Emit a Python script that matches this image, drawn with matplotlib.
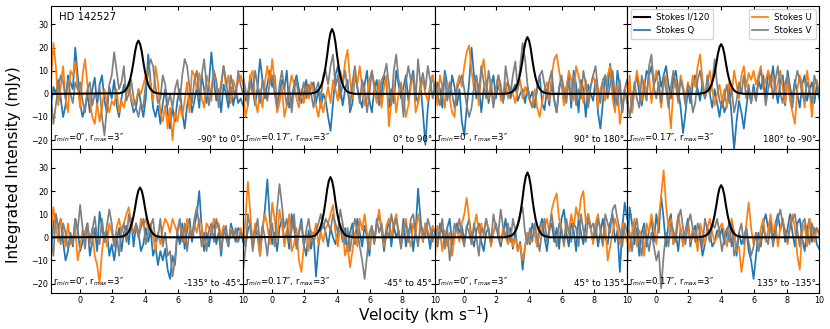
import numpy as np
import matplotlib
matplotlib.use('Agg')
import matplotlib.pyplot as plt

# velocity channels (km/s) for the polarisation spectra
velocity = np.linspace(-1.75, 10.0, 80)
# finer channels around the line for Stokes I/120
i_velocity = np.round(np.arange(2.4, 5.45, 0.1), 2)

r_min_labels = ['0″', '0.17″', '0″', '0.17″', '0″', '0.17″', '0″', '0.17″']
angle_labels = ['-90° to 0°', '0° to 90°', '90° to 180°', '180° to -90°',
                '-135° to -45°', '-45° to 45°', '45° to 135°', '135° to -135°']

# Stokes I / 120 (mJy), one list per panel, on i_velocity
stokes_i = [
    [0.2, 0.35, 0.6, 0.9, 1.6, 2.5, 4.1, 6.4, 9.7, 13.8, 18.4, 21.6, 23, 21.6, 18.4, 13.8,
     9.7, 6.4, 4.1, 2.5, 1.6, 0.9, 0.6, 0.35, 0.2, 0.1, 0.05, 0, 0, 0, 0],
    [0.1, 0.3, 0.4, 0.7, 1.1, 2.0, 3.1, 5.0, 7.8, 11.8, 16.8, 22.4, 26.3, 28, 26.3, 22.4,
     16.8, 11.8, 7.8, 5.0, 3.1, 2.0, 1.1, 0.7, 0.4, 0.3, 0.1, 0, 0, 0, 0],
    [0, 0, 0.1, 0.2, 0.4, 0.6, 1.0, 1.7, 2.7, 4.4, 6.9, 10.3, 14.7, 19.6, 23.0, 24.5,
     23.0, 19.6, 14.7, 10.3, 6.9, 4.4, 2.7, 1.7, 1.0, 0.6, 0.4, 0.2, 0.1, 0, 0],
    [0, 0, 0, 0.1, 0.2, 0.3, 0.5, 0.9, 1.5, 2.4, 3.9, 6.0, 9.0, 12.9, 17.2, 20.2,
     21.5, 20.2, 17.2, 12.9, 9.0, 6.0, 3.9, 2.4, 1.5, 0.9, 0.5, 0.3, 0.2, 0.1, 0],
    [0.1, 0.2, 0.3, 0.5, 0.9, 1.5, 2.4, 3.9, 6.0, 9.0, 12.9, 17.2, 20.2, 21.5, 20.2, 17.2,
     12.9, 9.0, 6.0, 3.9, 2.4, 1.5, 0.9, 0.5, 0.3, 0.2, 0.1, 0, 0, 0, 0],
    [0.26, 0.4, 0.65, 1.0, 1.8, 2.9, 4.7, 7.3, 10.9, 15.6, 20.8, 24.4, 26, 24.4, 20.8, 15.6,
     10.9, 7.3, 4.7, 2.9, 1.8, 1.0, 0.65, 0.4, 0.26, 0.1, 0, 0, 0, 0, 0],
    [0, 0, 0.1, 0.3, 0.4, 0.7, 1.1, 2.0, 3.1, 5.0, 7.8, 11.8, 16.8, 22.4, 26.3, 28,
     26.3, 22.4, 16.8, 11.8, 7.8, 5.0, 3.1, 2.0, 1.1, 0.7, 0.4, 0.3, 0.1, 0, 0],
    [0, 0, 0, 0.1, 0.2, 0.3, 0.6, 0.9, 1.6, 2.5, 4.1, 6.3, 9.5, 13.5, 18.0, 21.2,
     22.5, 21.2, 18.0, 13.5, 9.5, 6.3, 4.1, 2.5, 1.6, 0.9, 0.6, 0.3, 0.2, 0.1, 0],
]

# Stokes Q (mJy), on velocity
stokes_q = [
    [-5, 3, 0, 6, -2, -10, -5, 8, 5, 2, 20, 8,
     -4, -10, -6, 0, -8, 2, 7, -5, 4, 8, -3, -8, 3, -2,
     6, -5, -10, -2, 4, 0, 5, -3, -8, -6, 2, -4, -10,
     -2, 17, 5, -6, -10, -5, -13, -4, 2, -8, -15, -6, -12, -3,
     2, -8, -15, -5, 0, -8, -3, 3, -6, 8, 2, -4, 5,
     18, 6, -3, 2, -8, 4, 0, -6, 3, -5, 2, -4, -2, -5],
    [5, -3, 0, 8, 2, -5, 3, 15, 6, -2, 4, 10,
     3, 8, -5, 0, 6, 2, 10, -6, -3, 4, 8, 2, -4, 0,
     6, -2, 3, 5, -4, 2, -6, 0, -3, -10, -16, -4, 8,
     12, 3, -5, 2, 6, -8, -4, 8, 3, -2, -6, 4, 10, -3,
     -8, 2, 6, -5, 0, 8, 4, -6, 2, -4, 10, 4, -2,
     3, 8, -3, 5, 10, 0, -4, 4, -8, -22, -6, 3, 8, 0],
    [-3, 5, 2, -6, 10, 4, -2, 8, 3, -5, 2, -12,
     -18, -6, 5, 20, 8, -2, 4, -8, 2, 6, -4, 3, 8, -2,
     4, 0, -3, 2, 5, -2, 2, 4, -3, 0, 2, -4, 3,
     -2, 1, -6, 3, 8, -4, -7, 2, -5, 5, -3, -8, 2, 6,
     -4, 3, 8, -6, 10, 4, -8, 6, 2, -10, 4, 0, -3,
     6, -8, -15, -4, 8, 2, 13, 4, -6, 10, 3, -8, 2, 6],
    [-2, 5, -8, 3, 8, 0, -5, 2, 10, 8, 12, 4,
     7, 10, 3, 8, 12, 4, -2, 6, 10, 2, -6, -17, -8, 2,
     -4, 4, 8, 2, -3, 5, -2, 3, 0, -6, 2, -4, -10,
     -2, -8, -5, 3, -10, -24, -12, -3, -8, -15, -6, 2, -4, 4,
     -3, 6, 2, 8, -2, 10, 4, 12, 2, -4, 6, 8, -5,
     10, 3, -2, 6, 0, -6, 4, 8, -3, 2, 5, -4, 4, -2],
    [-8, 6, 10, 4, 8, -2, -10, -6, 2, -4, 8, 3,
     -6, -2, 2, 6, -8, -2, 4, -6, 11, 4, -2, 3, -8, -3,
     -10, -2, 4, -6, 2, 5, -3, 8, -4, 6, 2, -6, -3,
     4, -2, 3, -8, -4, -12, -6, -10, -5, -14, -18, -8, -12, 2,
     -3, 6, -5, 3, 8, -2, 5, 10, 20, 4, -6, 2, -4,
     3, 6, -3, 2, -8, 4, 0, -4, 6, 2, -2, 4, 3, -2],
    [2, -4, 3, 6, -2, 5, 0, -8, 3, 12, 25, 8,
     -3, 2, -6, 4, 8, -2, 3, -5, 10, 4, -4, 2, 8, -3,
     -8, 3, -5, 2, -17, -4, 3, 6, 2, -4, 4, 0, -3,
     2, 5, -2, 4, -6, 2, 6, -3, 8, 2, -4, 5, 0, -8,
     4, -2, 6, 10, 3, -6, 2, 8, -4, 5, 0, 3, -3,
     8, -4, 2, 6, -6, 3, 21, 8, -2, 6, 2, -5, 4, 2],
    [3, -4, 6, 2, -2, 4, 8, -3, 0, 6, 2, 5,
     -2, 4, 8, 0, -4, 3, 6, -2, -6, 2, 4, -3, 2, 6,
     0, -4, 2, 8, -2, 4, -5, 3, -6, -2, -14, -4, 2,
     -3, 6, 2, -4, 4, 8, 0, -6, 3, 6, -2, 4, -5, 8,
     12, 2, -4, 6, 3, -6, 8, 2, -3, 6, 10, 4, -2,
     6, -4, 2, 8, 0, -3, 6, 10, -2, 3, -15, 4, 15, 8],
    [-12, 13, 6, -3, 4, -8, 2, 6, -4, 3, 8, -2,
     10, 2, 18, 8, -4, 6, 10, -3, 2, -6, 4, -2, 3, 8,
     -4, 2, 5, -2, 0, -8, -3, 4, 2, -4, -2, 3, 0,
     4, -3, 2, 6, -4, 3, -8, 2, -3, 0, 4, -6, -10, -18,
     -8, 2, -4, 6, 10, 4, 8, -2, 6, 10, 3, 8, -2,
     4, 10, 2, -4, 6, 8, 0, -6, 3, 8, -2, 4, -3, -5],
]

# Stokes U (mJy), on velocity
stokes_u = [
    [5, 22, 12, -5, 3, 12, -2, -8, 10, 8, 14, 3,
     -6, 8, 15, 4, -3, -10, -13, -4, -12, -6, 2, -4, -8, -3,
     -5, 2, -8, -3, -6, 0, 3, -2, -5, -3, 2, 0, 4,
     8, 10, 4, -3, 12, 5, -8, -12, -5, -15, -6, -20, -8, -12,
     -5, -10, -3, 5, -8, 10, 8, 2, 9, -2, -6, 8, 4,
     -3, 10, 6, -2, 5, 12, 3, 8, -4, 6, 2, 5, 8, 4],
    [3, -10, -5, 8, 10, -3, -8, 2, -6, 5, 12, 4,
     15, 5, -8, -4, 3, -10, -5, 2, 8, 4, -2, -6, 2, -4,
     3, -2, 5, 0, -5, -10, -3, -8, -2, 3, -4, 6, 2,
     -3, 10, 5, 14, 19, 6, -2, 8, 4, 12, 3, -5, -2, 6,
     10, 2, -4, 6, -6, 3, 8, -14, -3, 4, -8, 0, 5,
     -2, -10, -5, 3, 8, -8, -4, 2, 6, 0, -3, 4, 8, 2],
    [2, -5, 8, 3, -6, 5, -2, -8, -10, 4, 8, 3,
     12, 18, 21, 10, 2, 8, -5, 10, 15, 4, -2, 6, -4, 2,
     8, -3, 0, 5, -2, 3, 0, -4, 2, 6, -2, 3, 0,
     -3, -5, 2, -6, -10, -4, 2, 5, -3, 8, 15, 17, 10, 4,
     -5, 2, 10, 6, -3, 12, 8, 2, -4, 6, -2, 3, 8,
     4, -6, 2, 5, -3, 8, 12, -2, -8, 4, -13, -5, 2, 4],
    [-5, 8, -8, 2, 10, 4, -3, 6, 0, 8, -4, 5,
     10, 2, -6, 4, 8, -3, -15, 2, 6, -4, 8, 3, -2, 5,
     0, 8, 3, 12, 17, 6, -2, 4, 10, 2, -5, 0, 4,
     -3, 2, -6, 5, 0, 10, 4, -2, 8, 12, 3, 9, 6, 10,
     4, 8, 12, 2, 6, 10, 3, 8, 0, 5, 10, 2, -4,
     6, -3, -8, -13, 2, 8, 4, -6, 10, 2, -10, 4, 6, 0],
    [2, 13, 5, -2, 8, 2, -4, 6, -3, 0, 4, -10,
     -4, 3, 2, 5, -3, 4, -8, -12, -20, -6, 2, -4, 6, 2,
     -3, 4, 8, 2, 6, 10, 13, 6, 2, 4, 0, 8, 5,
     8, 3, 6, 0, -6, 2, -3, 4, 8, 6, 2, 8, 5, 2,
     6, 3, -2, 8, 4, 0, 6, 2, 8, 5, -3, 6, 4,
     2, 8, 4, 6, 0, 5, 2, -3, 4, 0, 2, -2, 4, 0],
    [-5, 8, 24, 10, -4, 6, 2, -8, 4, 10, 5, -3,
     15, 8, -2, 12, 6, -4, 2, 10, -6, -3, 4, -10, -15, -4,
     2, -6, 3, 0, 6, -3, 2, -2, 4, 6, 10, 14, 2,
     -4, 6, 2, -8, -3, -13, -6, 2, -4, 8, 3, 10, 2, -5,
     4, -2, 6, 12, 3, -4, 5, 8, 0, 6, 10, 2, -3,
     4, 8, 0, -4, 6, 2, 10, 4, -2, 6, 3, 0, 5, 2],
    [-8, 5, 2, -6, 3, -4, 2, -8, 0, 4, -2, 6,
     10, 17, 8, -3, 4, 10, 2, 6, 0, 8, 3, -4, 2, 5,
     3, -2, 4, 0, -3, 2, -4, 0, -6, -3, -10, -4, 2,
     -2, 0, 3, -4, 2, 6, 4, 8, 2, 12, 16, 19, 8, 4,
     -4, 6, 2, 10, 4, 13, 8, 17, 20, 6, 10, 4, -3,
     6, 10, 2, -4, 6, -10, -4, 2, 8, 4, -3, 6, 2, -2],
    [4, -6, 2, 8, -4, 3, 0, -8, 6, 2, 10, 4,
     -3, 8, 18, 29, 14, 4, 8, -3, 2, 10, 3, -4, 2, 6,
     -2, 4, 0, -6, 6, 2, -3, 4, 8, 2, -2, 0, 4,
     6, 2, -4, 3, 8, 2, -6, -4, -15, -8, 6, 15, 4, -3,
     2, -6, 4, 8, -2, 3, 10, 2, 6, -4, 4, 8, 2,
     -3, 6, 10, 4, -8, -14, 2, 6, -4, 8, 3, -2, 4, 2],
]

# Stokes V (mJy), on velocity
stokes_v = [
    [0, -13, -5, 3, 8, 5, -2, 6, 0, -4, 5, 2,
     5, -3, -8, 2, 5, -5, 0, -2, 3, -10, -18, -6, 4, 8,
     18, 10, 2, 5, 12, -3, 0, 6, -2, -6, -10, -4, -6,
     5, 10, 15, 12, 3, -4, -2, 8, 4, -5, 0, -6, 2, 6,
     -3, 8, 15, 12, 3, -4, 6, 10, -2, 8, 15, 4, -5,
     2, 10, 5, -6, 3, 12, 6, -3, 8, 2, -2, 10, 4, 0],
    [8, 2, -5, 5, 0, 10, 3, -4, 6, 2, -3, 5,
     8, 0, -6, 4, 10, 2, -5, 3, -8, 2, 6, -3, 0, 5,
     -2, 4, 0, -6, 2, 5, -3, 8, 10, 4, 12, 17, 3,
     8, -2, 4, 10, 2, -6, 5, 12, 3, -4, 6, 2, -8, 0,
     10, 4, 0, -3, 6, 8, 13, 4, -5, 10, 17, 6, 2,
     -10, 5, 12, 6, 8, -3, 15, 4, 9, 2, 12, 6, -2, 4],
    [6, 0, -5, 3, 8, -3, 5, 0, -6, 2, 5, 8,
     2, -5, -10, -6, 3, 8, 0, 12, 5, -2, 10, 3, -6, 2,
     8, 4, -4, 12, 5, 0, 8, 14, 2, 12, 22, 15, 4,
     -3, -6, -4, 2, 8, 10, 4, -2, 6, 10, -2, -8, 3, 8,
     2, -4, 6, -3, 8, -5, 2, -2, 10, 4, -6, 3, 8,
     12, 2, -4, 6, 8, -2, 4, 10, 0, -5, 6, -8, 2, -4],
    [0, -10, -4, 5, -2, -6, 8, 2, -3, 12, 17, 3,
     -2, 5, -4, 8, 2, -6, 3, 10, 4, -3, 6, 2, -5, 4,
     2, -8, -4, 6, 10, 3, -2, 8, 0, 5, 15, 4, -3,
     -6, -2, 4, -4, 2, -8, -3, 5, 0, 8, -2, 4, -4, 2,
     -3, 6, 10, 4, -5, 2, 8, -2, 6, 12, 0, -4, 5,
     8, 2, -6, 4, 10, 6, 0, -3, 5, 2, -4, 8, 4, 1],
    [0, -8, 10, 4, -3, 6, 2, -5, 0, -3, 8, 3,
     14, 4, -5, 6, -2, 3, 9, 0, -3, 8, -2, 5, 12, 6,
     -4, 2, -8, 3, 6, -2, 10, 4, 2, 6, 0, 4, 8,
     -3, 2, 5, 8, -2, 0, 8, -4, 2, -8, -6, -17, -10, 3,
     8, -2, 6, -6, 3, 0, 8, 13, 5, -4, 2, -6, 3,
     6, -2, 8, 4, -6, 2, 5, -3, 3, 0, 4, -2, 2, 0],
    [-15, -5, 10, 4, -6, 2, 8, -3, 5, 0, -8, 3,
     6, -4, 12, 23, 14, 4, 8, -2, 3, 10, -5, 2, 6, -4,
     3, 8, 0, -3, 2, 6, 10, 4, 8, 6, 3, 10, 6,
     2, 12, 6, -3, 4, -6, 2, 8, 3, -4, -10, -18, -8, 2,
     5, -3, 8, 2, 6, -2, 3, 0, 10, 4, 8, 2, -5,
     3, 6, -2, 8, 10, 2, -4, 6, 3, 0, 8, 4, -2, 3],
    [6, -3, 2, 8, -5, 4, -10, -2, 6, 3, 8, 0,
     -4, 5, 2, -3, 6, 0, -8, 4, 2, 8, 3, -2, 10, 4,
     2, 12, 4, 0, 6, -2, 8, 3, 6, 10, 13, 2, -3,
     4, -2, 6, 0, -6, 3, 8, -2, 4, 10, 2, -4, 6, 3,
     -3, 8, 2, -2, 6, 4, -4, 10, 3, -2, 8, 4, 6,
     0, 8, 4, -3, 10, 6, 2, 12, 14, 8, 3, -4, 6, 2],
    [6, 2, -6, 3, 8, -2, -8, 4, 0, -6, 2, -4,
     -10, -6, -22, -8, 2, -4, 6, 3, -2, 8, 12, 4, -3, 6,
     10, 4, -2, 6, 2, -4, 8, 3, -2, 6, 4, 8, 2,
     -6, 0, 4, -2, 6, -8, -4, 2, 6, -3, 4, -2, -8, -4,
     2, -6, -2, 4, 0, -3, 6, -4, 2, 8, 12, 6, 3,
     -2, 4, 8, 10, 3, -4, 6, 8, 2, -3, 6, 2, 4, 1],
]

fig, axes = plt.subplots(2, 4, figsize=(8.3, 3.29), dpi=100, sharex=True, sharey=True)
fig.subplots_adjust(left=0.0614, right=0.987, top=0.982, bottom=0.110, wspace=0, hspace=0)

for k, ax in enumerate(axes.flat):
    ax.plot(velocity, stokes_q[k], color='#1f77b4', lw=1.25, label='Stokes Q')
    ax.plot(velocity, stokes_u[k], color='#ff7f0e', lw=1.25, label='Stokes U')
    ax.plot(velocity, stokes_v[k], color='grey', lw=1.25, label='Stokes V')
    i_x = np.concatenate([[-1.75], i_velocity, [10.0]])
    i_y = np.concatenate([[0], stokes_i[k], [0]])
    ax.plot(i_x, i_y, color='black', lw=1.5, label='Stokes I/120')

    ax.set_xlim(-1.75, 10)
    ax.set_ylim(-24, 38)
    ax.set_xticks([0, 2, 4, 6, 8, 10])
    ax.set_yticks([-20, -10, 0, 10, 20, 30])
    ax.tick_params(direction='in', top=True, right=True, labelsize=5.8, length=3, pad=2)

    ax.text(0.01, 0.035, 'r$_{min}$=' + r_min_labels[k] + ', r$_{max}$=3″',
            transform=ax.transAxes, fontsize=6.2, ha='left', va='bottom')
    ax.text(0.985, 0.035, angle_labels[k], transform=ax.transAxes,
            fontsize=6.2, ha='right', va='bottom')

axes[0, 0].text(0.04, 0.9, 'HD 142527', transform=axes[0, 0].transAxes, fontsize=7.3)

# legends in the top right panel
ax = axes[0, 3]
h, l = ax.get_legend_handles_labels()
leg1 = ax.legend([h[3], h[0]], [l[3], l[0]], loc='upper left', fontsize=6.2,
                 handlelength=1.8, borderaxespad=0.4)
ax.add_artist(leg1)
ax.legend([h[1], h[2]], [l[1], l[2]], loc='upper right', fontsize=6.2,
          handlelength=1.8, borderaxespad=0.4)

fig.text(0.016, 0.5, 'Integrated Intensity (mJy)', rotation=90, fontsize=11,
         ha='center', va='center')
fig.text(0.51, 0.008, 'Velocity (km s$^{-1}$)', fontsize=11, ha='center', va='bottom')

plt.savefig('out.png', dpi=100)
